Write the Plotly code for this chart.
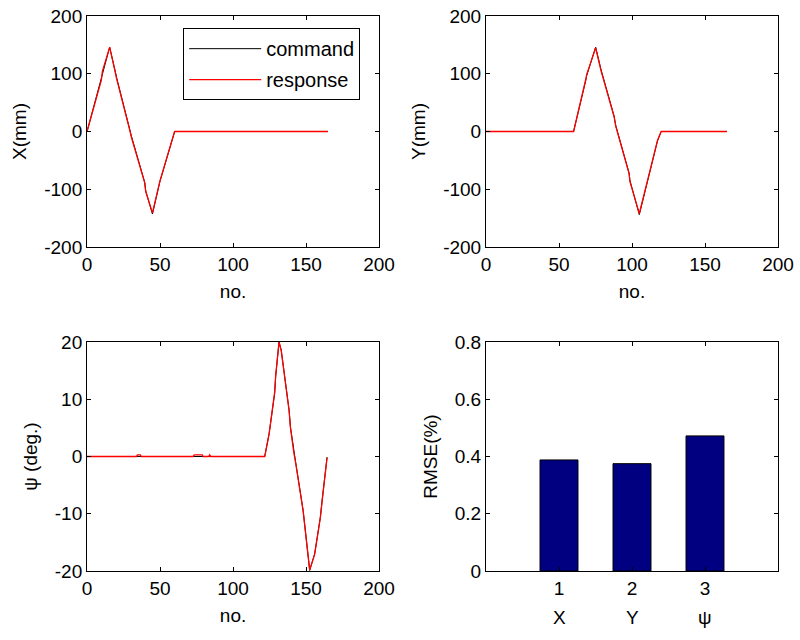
import plotly.graph_objects as go
from plotly.subplots import make_subplots

# ====== data ======
x_no = [0, 9.8, 10.5, 15.5, 19.7, 20.2, 29.2, 30.4, 39.5, 40.2, 44.8, 49.4, 49.9, 60, 165]
x_cmd = [0, 95, 101, 146, 100, 94, 4, -8, -88, -103, -143, -94, -87, 0, 0]
x_resp = [0, 89, 104, 146, 98, 92, 3, -10, -89, -104, -141, -92, -86, 0, 0]

y_no = [0, 60, 68.3, 69, 75.1, 78.1, 78.8, 87.7, 88.9, 98, 98.6, 105, 108.4, 109, 117.5, 120, 165]
y_cmd = [0, 0, 88, 97, 146, 115, 107, 27, 10, -72, -85, -144, -110, -100, -16, 0, 0]
y_resp = [0, 0, 90, 99, 145, 113, 105, 26, 9, -73, -87, -142, -108, -99, -15, 0, 0]

psi_no = [0, 33.8, 34.5, 36.5, 37.2, 72.6, 73.5, 79, 79.5, 83.3, 84, 84.7, 121.7, 124.7,
          128.5, 129.2, 131.5, 133, 138.4, 139.3, 141.6, 143, 148, 149, 149.8, 152.5,
          155.9, 159.8, 161, 164.4]
psi_cmd = [0, 0, 0, 0, 0, 0, 0, 0, 0, 0, 0, 0, 0, 4.0,
           11.0, 14.0, 20.0, 18.6, 8.1, 5.2, 0.8, -1.2, -9.4, -11.8, -14.0, -19.9,
           -17.0, -10.6, -7.7, -0.1]
psi_resp = [0, 0, 0.3, 0.3, 0, 0, 0.3, 0.3, 0, 0, 0.3, 0, 0, 3.9,
            11.2, 14.1, 20.0, 18.5, 8.0, 5.1, 0.7, -1.3, -9.5, -11.9, -14.2, -19.8,
            -17.1, -10.7, -7.8, -0.2]

rmse_idx = [1, 2, 3]
rmse_val = [0.388, 0.375, 0.472]
rmse_names = ["X", "Y", "ψ"]

no_ticks = [0, 50, 100, 150, 200]
mm_ticks = [-200, -100, 0, 100, 200]
deg_ticks = [-20, -10, 0, 10, 20]
rmse_ticks = [0, 0.2, 0.4, 0.6, 0.8]

FONT = "Liberation Sans, Arial, sans-serif"
FS = 19


def labels(vals):
    # MATLAB style: plain hyphen for minus
    return [("%g" % v) for v in vals]


fig = make_subplots(rows=2, cols=2)

#====== X ======
fig.add_trace(go.Scatter(x=x_no, y=x_cmd, mode="lines", name="command",
                         legendgroup="c", line=dict(color="black", width=1)), row=1, col=1)
fig.add_trace(go.Scatter(x=x_no, y=x_resp, mode="lines", name="response",
                         legendgroup="r", line=dict(color="#ff0000", width=1.3)), row=1, col=1)

#====== Y ======
fig.add_trace(go.Scatter(x=y_no, y=y_cmd, mode="lines", showlegend=False,
                         line=dict(color="black", width=1)), row=1, col=2)
fig.add_trace(go.Scatter(x=y_no, y=y_resp, mode="lines", showlegend=False,
                         line=dict(color="#ff0000", width=1.3)), row=1, col=2)

#====== psi ======
fig.add_trace(go.Scatter(x=psi_no, y=psi_cmd, mode="lines", showlegend=False,
                         line=dict(color="black", width=1)), row=2, col=1)
fig.add_trace(go.Scatter(x=psi_no, y=psi_resp, mode="lines", showlegend=False,
                         line=dict(color="#ff0000", width=1.3)), row=2, col=1)

#====== RMSE ======
fig.add_trace(go.Bar(x=rmse_idx, y=rmse_val, width=0.52, showlegend=False,
                     marker=dict(color="#000080", line=dict(color="black", width=1))),
              row=2, col=2)

for i, name in enumerate(rmse_names):
    fig.add_annotation(x=rmse_idx[i], y=0.0344, xref="x4", yref="paper",
                       yanchor="middle", text=name, showarrow=False,
                       font=dict(family=FONT, size=FS, color="black"))

axis_style = dict(showline=True, linecolor="black", linewidth=1, mirror="ticks",
                  ticks="inside", ticklen=4, tickcolor="black", showgrid=False,
                  zeroline=False, automargin=False, ticklabeloverflow="allow",
                  tickfont=dict(family=FONT, size=FS, color="black"))

fig.update_xaxes(**axis_style)
fig.update_yaxes(**axis_style)

xd1 = [0.1088, 0.4738]
xd2 = [0.6075, 0.9725]
yd1 = [0.6141, 0.975]
yd2 = [0.1078, 0.4656]

t_font = dict(family=FONT, size=FS, color="black")

for r, c in [(1, 1), (1, 2), (2, 1)]:
    fig.update_xaxes(domain=xd1 if c == 1 else xd2, range=[0, 200],
                     tickvals=no_ticks, ticktext=labels(no_ticks),
                     title=dict(text="no.", font=t_font, standoff=10), row=r, col=c)
fig.update_xaxes(domain=xd2, range=[0, 4], tickvals=rmse_idx, ticktext=labels(rmse_idx), row=2, col=2)

fig.update_yaxes(domain=yd1, range=[-200, 200], tickvals=mm_ticks, ticktext=labels(mm_ticks),
                 title=dict(text="X(mm)", font=t_font, standoff=12), row=1, col=1)
fig.update_yaxes(domain=yd1, range=[-200, 200], tickvals=mm_ticks, ticktext=labels(mm_ticks),
                 title=dict(text="Y(mm)", font=t_font, standoff=12), row=1, col=2)
fig.update_yaxes(domain=yd2, range=[-20, 20], tickvals=deg_ticks, ticktext=labels(deg_ticks),
                 title=dict(text="ψ (deg.)", font=t_font, standoff=12), row=2, col=1)
fig.update_yaxes(domain=yd2, range=[0, 0.8], tickvals=rmse_ticks, ticktext=labels(rmse_ticks),
                 title=dict(text="RMSE(%)", font=t_font, standoff=12), row=2, col=2)

fig.update_layout(
    width=800,
    height=640,
    margin=dict(l=0, r=0, t=0, b=0),
    paper_bgcolor="white",
    plot_bgcolor="white",
    font=dict(family=FONT, size=FS, color="black"),
    legend=dict(x=0.229, y=0.956, xanchor="left", yanchor="top",
                bordercolor="black", borderwidth=1, bgcolor="white",
                itemwidth=72, tracegroupgap=2,
                font=dict(family=FONT, size=FS + 1, color="black")),
)

# drop the default 8px body margin so the figure fills the window
fig.write_html("out.html", config={"displayModeBar": False},
               post_script="document.body.style.margin='0px';")
